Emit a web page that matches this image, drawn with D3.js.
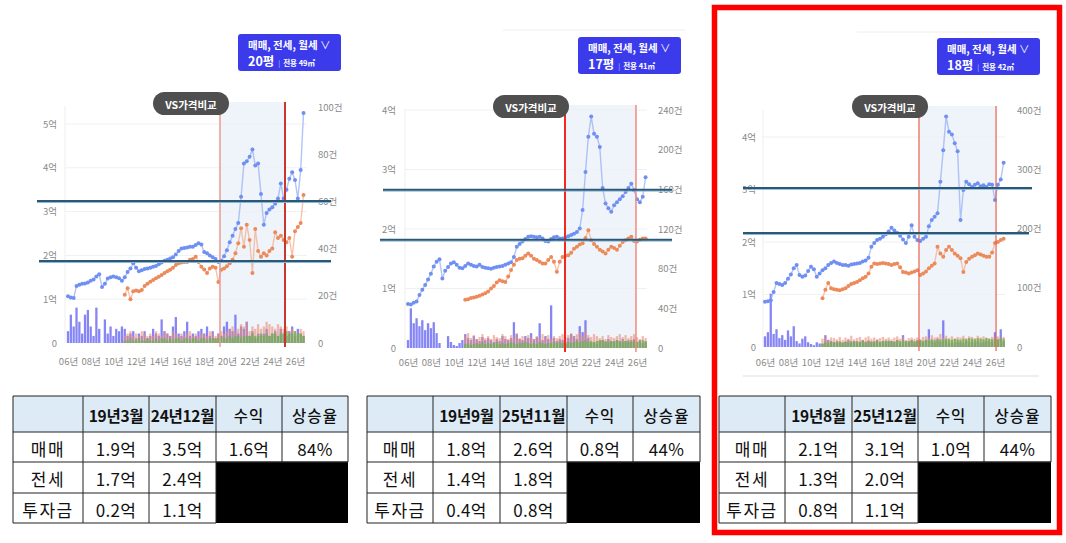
<!DOCTYPE html>
<html>
<head>
<meta charset="utf-8">
<script src="https://cdn.jsdelivr.net/npm/d3@7"></script>
<style>
  body { margin: 0; background: #fff; }
  svg { display: block; font-family: "Noto Sans CJK KR", "Noto Sans", sans-serif; }
</style>
</head>
<body>
<svg id="chart" width="1066" height="543"></svg>
<script>
// quarterly readings, sale from 2006 Q1, jeonse / volumes of jeonse+rent from 2011 Q1
const saleStart = 2006, jeonseStart = 2011;

// ---- panel 1 : 20평 (전용 49㎡)
const p1Sale = [
  1.07,1.04,1.03,1.30, 1.33,1.35,1.36,1.38, 1.42,1.45,1.52,1.57, 1.28,1.35,1.47,1.50,
  1.52,1.50,1.48,1.42, 1.50,1.62,1.70,1.82, 1.72,1.64,1.66,1.69, 1.70,1.72,1.74,1.76,
  1.80,1.84,1.88,1.90, 1.93,1.96,2.02,2.10, 2.16,2.17,2.18,2.20, 2.20,2.24,2.28,2.25,
  2.08,2.05,2.00,1.96, 1.92,1.85,1.88,1.98, 2.12,2.30,2.45,2.60, 2.74,3.34,4.10,4.15,
  4.25,4.42,4.05,4.10, 3.40,2.70,2.97,3.05, 3.10,3.18,3.30,3.64, 3.30,3.50,3.75,3.90,
  3.72,3.30,3.95,5.25];
const p1Jeonse = [
  1.10,1.25,1.00,1.18, 1.20,1.18,1.21,1.30, 1.35,1.40,1.44,1.48, 1.51,1.55,1.60,1.64,
  1.67,1.72,1.78,1.82, 1.84,1.85,1.85,1.90, 1.92,1.97,1.85,1.74, 1.68,1.60,1.70,1.74,
  1.72,1.39,1.67,1.70, 1.75,1.82,1.90,2.05, 2.28,2.62,2.20,2.70, 2.35,1.60,2.60,2.10,
  1.97,2.05,2.00,2.10, 2.16,2.53,2.40,2.45, 2.35,2.30,2.40,1.97, 2.55,2.65,2.74,3.38];
const p1SaleVol = [
  5,12,7,15, 9,4,12,14, 7,3,15,6, 0,10,4,7, 3,6,5,7, 6,3,4,5, 2,4,3,5, 2,3,6,4,
  3,10,5,4, 3,7,11,4, 3,5,9,3, 4,3,5,6, 4,7,3,5, 2,4,3,7, 9,6,5,12, 4,7,6,9,
  3,5,2,4, 3,4,6,3, 4,5,3,6, 4,3,5,7, 3,6,4,3];
const p1JeonseVol = [
  3,4,5,3, 4,3,5,4, 3,4,3,5, 4,3,5,4, 3,5,4,3, 4,3,4,5, 3,4,3,4, 4,3,5,4,
  3,4,5,4, 5,6,7,5, 6,8,7,9, 5,7,6,8, 6,7,9,8, 7,6,8,7, 6,7,5,6, 5,4,6,5];
const p1RentVol = [
  1,1,2,1, 1,2,1,1, 2,1,1,2, 1,2,2,1, 2,1,2,2, 1,2,2,1, 2,2,1,2, 2,1,2,2,
  2,2,3,2, 2,3,2,3, 3,2,3,3, 3,4,3,3, 4,3,4,3, 4,4,3,4, 4,5,4,4, 5,4,4,3];
const p1Marks = [2019.39, 2025.12];
const p1Guides = [3.24, 1.87];
const p1Head = ["", "19년3월", "24년12월", "수익", "상승율"];
const p1Rows = [["매매", "1.9억", "3.5억", "1.6억", "84%"], ["전세", "1.7억", "2.4억"], ["투자금", "0.2억", "1.1억"]];

// ---- panel 2 : 17평 (전용 41㎡)
const p2Sale = [
  0.74,0.73,0.76,0.78, 0.89,0.98,1.06,1.15, 1.25,1.37,1.45,1.49, 1.17,1.30,1.36,1.42,
  1.44,1.40,1.35,1.34, 1.38,1.42,1.40,1.38, 1.37,1.40,1.36,1.35, 1.34,1.33,1.35,1.36,
  1.37,1.38,1.40,1.42, 1.44,1.53,1.70,1.75, 1.79,1.83,1.87,1.88, 1.87,1.86,1.87,1.84,
  1.80,1.79,1.83,1.86, 1.87,1.84,1.84,1.86, 1.88,1.90,1.92,1.95, 2.01,2.32,2.96,3.55,
  3.89,3.60,3.55,3.38, 2.69,2.43,2.35,2.29, 2.40,2.45,2.50,2.55, 2.62,2.69,2.76,2.65,
  2.50,2.45,2.54,2.87];
const p2Jeonse = [
  0.81,0.82,0.84,0.85, 0.86,0.88,0.90,0.92, 0.95,1.00,1.04,1.10, 1.14,1.12,1.11,1.20,
  1.31,1.40,1.48,1.50, 1.51,1.55,1.59,1.55, 1.50,1.48,1.45,1.42, 1.42,1.48,1.53,1.45,
  1.28,1.45,1.53,1.55, 1.56,1.60,1.67,1.70, 1.74,1.76,1.85,1.98, 1.81,1.75,1.70,1.65,
  1.62,1.59,1.65,1.70, 1.68,1.65,1.72,1.78, 1.81,1.84,1.87,1.80, 1.79,1.82,1.84,1.84];
const p2SaleVol = [
  8,40,25,30, 22,28,18,25, 20,26,15,5, 0,0,12,6, 3,2,5,8, 14,10,8,12, 9,7,11,8,
  10,8,6,9, 7,12,9,8, 10,26,14,9, 8,12,10,15, 9,11,25,8, 12,9,43,10, 7,9,8,6,
  10,14,12,9, 22,16,28,10, 5,6,4,7, 8,6,9,7, 6,8,7,9, 7,6,8,9, 6,8,5,7];
const p2JeonseVol = [
  12,15,10,13, 9,11,14,10, 12,9,13,11, 10,14,12,9, 13,11,15,10, 12,10,13,11, 9,12,10,14, 11,13,9,12,
  10,12,14,11, 13,15,12,14, 16,12,18,13, 11,14,12,10, 12,9,13,11, 10,12,14,11, 13,10,12,14, 11,9,12,10];
const p2RentVol = [
  4,5,3,4, 5,4,6,4, 5,4,5,6, 4,5,4,5, 6,5,4,5, 5,6,5,4, 5,4,6,5, 4,5,5,6,
  5,6,5,4, 6,5,6,7, 6,7,8,6, 7,6,7,8, 8,7,6,7, 7,8,7,6, 7,8,6,7, 6,7,8,6];
const p2Marks = [2019.71, 2025.91];
const p2Guides = [2.66, 1.82];
const p2Head = ["", "19년9월", "25년11월", "수익", "상승율"];
const p2Rows = [["매매", "1.8억", "2.6억", "0.8억", "44%"], ["전세", "1.4억", "1.8억"], ["투자금", "0.4억", "0.8억"]];

// ---- panel 3 : 18평 (전용 42㎡)
const p3Sale = [
  0.86,0.87,0.89,1.05, 1.22,1.20,1.18,1.22, 1.30,1.38,1.50,1.56, 1.37,1.34,1.36,1.45,
  1.53,1.48,1.34,1.40, 1.46,1.50,1.56,1.60, 1.63,1.60,1.58,1.56, 1.56,1.55,1.57,1.58,
  1.59,1.60,1.63,1.65, 1.70,1.91,1.98,2.04, 2.06,2.10,2.15,2.20, 2.27,2.22,2.17,2.12,
  2.05,1.98,2.10,2.32, 2.10,2.04,2.02,2.06, 2.10,2.30,2.42,2.48, 2.55,3.15,3.75,4.39,
  4.10,4.05,3.88,3.73, 2.42,2.99,3.15,3.10, 3.05,3.09,3.12,3.06, 3.08,3.05,3.10,3.09,
  2.80,3.09,3.19,3.51];
const p3Jeonse = [
  0.93,1.09,1.22,1.12, 1.10,1.09,1.08,1.10, 1.12,1.16,1.20,1.22, 1.24,1.27,1.31,1.34,
  1.40,1.53,1.59,1.58, 1.59,1.60,1.59,1.58, 1.56,1.58,1.59,1.52, 1.43,1.42,1.40,1.42,
  1.44,1.46,1.37,1.40, 1.44,1.50,1.55,1.59, 1.91,1.78,1.72,1.85, 1.91,1.85,1.78,1.74,
  1.69,1.43,1.62,1.68, 1.72,1.75,1.78,1.76, 1.74,1.72,1.72,1.80, 1.98,2.00,2.04,2.06];
const p3SaleVol = [
  18,25,90,22, 30,15,20,12, 28,18,35,10, 6,14,18,8, 5,3,8,6, 5,20,12,10, 8,10,9,7,
  9,12,8,10, 10,8,12,9, 11,9,10,12, 8,10,9,11, 10,9,12,8, 20,9,10,12, 8,11,10,9,
  12,30,10,8, 14,9,45,10, 6,8,7,9, 8,7,10,8, 9,8,10,7, 8,10,9,8, 25,12,30,10];
const p3JeonseVol = [
  14,18,12,16, 15,13,17,12, 16,14,19,13, 15,17,12,16, 18,14,16,13, 15,17,14,16, 13,16,18,14, 17,12,15,16,
  14,16,13,17, 18,15,20,16, 17,22,16,19, 15,18,14,17, 16,19,15,18, 17,15,19,16, 18,16,14,17, 16,18,15,17];
const p3RentVol = [
  6,8,7,9, 8,7,9,8, 9,8,10,9, 8,9,10,8, 10,9,8,10, 9,10,11,9, 10,9,11,10, 11,10,9,11,
  10,11,12,10, 12,11,13,12, 11,13,12,14, 13,12,14,13, 12,14,13,15, 14,13,15,14, 13,15,14,13, 14,13,15,14];
const p3Marks = [2019.39, 2026.09];
const p3Guides = [3.03, 2.17];
const p3Head = ["", "19년8월", "25년12월", "수익", "상승율"];
const p3Rows = [["매매", "2.1억", "3.1억", "1.0억", "44%"], ["전세", "1.3억", "2.0억"], ["투자금", "0.8억", "1.1억"]];

const yearTicks = [2006, 2008, 2010, 2012, 2014, 2016, 2018, 2020, 2022, 2024, 2026];

const panels = [
  { sale: p1Sale, jeonse: p1Jeonse, saleVol: p1SaleVol, jeonseVol: p1JeonseVol, rentVol: p1RentVol,
    marks: p1Marks, guides: p1Guides, head: p1Head, rows: p1Rows, size: "20평", area: "전용 49㎡",
    x06: 68, x26: 295, plotL: 65, plotR: 307, plotTop: 102, yZero: 343,
    leftMax: 5, leftTopY: 124, rightMax: 100, rightStep: 20, rightTopY: 107,
    leftLabX: 57, rightLabX: 318, xLabY: 362,
    markStyle: [["#eb9a8e", 1.5], ["#c8382e", 2]],
    guideX: [[37, 331], [39, 331]],
    btn: [238, 34], pill: [153, 92],
    table: { cols: [13, 83, 149, 216, 282, 348], rows: [396, 432, 462, 493, 523] } },
  { sale: p2Sale, jeonse: p2Jeonse, saleVol: p2SaleVol, jeonseVol: p2JeonseVol, rentVol: p2RentVol,
    marks: p2Marks, guides: p2Guides, head: p2Head, rows: p2Rows, size: "17평", area: "전용 41㎡",
    x06: 408, x26: 637, plotL: 405, plotR: 647, plotTop: 105, yZero: 348,
    leftMax: 4, leftTopY: 110, rightMax: 240, rightStep: 40, rightTopY: 110,
    leftLabX: 396, rightLabX: 658, xLabY: 363,
    markStyle: [["#f02a1e", 2], ["#f08a80", 1.5]],
    guideX: [[383, 672], [380, 672]],
    btn: [578, 37], pill: [493, 95], topRule: [503, 685, 30],
    table: { cols: [367, 433, 500, 567, 633, 700], rows: [396, 432, 462, 493, 523] } },
  { sale: p3Sale, jeonse: p3Jeonse, saleVol: p3SaleVol, jeonseVol: p3JeonseVol, rentVol: p3RentVol,
    marks: p3Marks, guides: p3Guides, head: p3Head, rows: p3Rows, size: "18평", area: "전용 42㎡",
    x06: 765, x26: 995, plotL: 763, plotR: 1005, plotTop: 106, yZero: 347,
    leftMax: 4, leftTopY: 137, rightMax: 400, rightStep: 100, rightTopY: 110,
    leftLabX: 756, rightLabX: 1017, xLabY: 363,
    markStyle: [["#e8604e", 1.2], ["#e8604e", 1.2]],
    guideX: [[743, 1032], [743, 1029]],
    btn: [937, 38], pill: [852, 95], topRule: [857, 1040, 32], bottomRule: [743, 1039, 376],
    table: { cols: [719, 785, 852, 918, 984, 1051], rows: [396, 432, 462, 493, 523] } }
];

const svg = d3.select("#chart");
svg.append("rect").attr("width", 1066).attr("height", 543).attr("fill", "#fff");

function drawPanel(p) {
  const g = svg.append("g");
  const x = d3.scaleLinear().domain([2006, 2026]).range([p.x06, p.x26]);
  const yL = d3.scaleLinear().domain([0, p.leftMax]).range([p.yZero, p.leftTopY]);
  const yR = d3.scaleLinear().domain([0, p.rightMax]).range([p.yZero, p.rightTopY]);

  const saleData = p.sale.map((v, i) => ({ t: saleStart + i / 4, v }));
  const jeonseData = p.jeonse.map((v, i) => ({ t: jeonseStart + i / 4, v }));
  const saleVolData = p.saleVol.map((v, i) => ({ t: saleStart + i / 4, v }));
  const jeonseVolData = p.jeonseVol.map((v, i) => ({ t: jeonseStart + i / 4, v }));
  const rentVolData = p.rentVol.map((v, i) => ({ t: jeonseStart + i / 4, v }));

  if (p.topRule) g.append("line").attr("x1", p.topRule[0]).attr("x2", p.topRule[1])
    .attr("y1", p.topRule[2]).attr("y2", p.topRule[2]).attr("stroke", "#eeeeee");
  if (p.bottomRule) g.append("line").attr("x1", p.bottomRule[0]).attr("x2", p.bottomRule[1])
    .attr("y1", p.bottomRule[2]).attr("y2", p.bottomRule[2]).attr("stroke", "#dddddd");

  // comparison window
  g.append("rect")
    .attr("x", x(p.marks[0])).attr("y", p.plotTop)
    .attr("width", x(p.marks[1]) - x(p.marks[0])).attr("height", p.yZero - p.plotTop)
    .attr("fill", "#eef4fa");

  // gridlines
  g.append("g").selectAll("line")
    .data(d3.range(1, p.leftMax + 1))
    .join("line")
    .attr("x1", p.plotL).attr("x2", p.plotR)
    .attr("y1", d => yL(d)).attr("y2", d => yL(d))
    .attr("stroke", "#f0f0f0");
  g.append("line").attr("x1", p.plotL).attr("x2", p.plotL)
    .attr("y1", p.plotTop + 4).attr("y2", p.yZero).attr("stroke", "#eeeeee");

  // axes
  const axL = g.append("g").attr("transform", `translate(${p.leftLabX},0)`)
    .call(d3.axisLeft(yL).tickValues(d3.range(0, p.leftMax + 1)).tickSize(0).tickPadding(0)
      .tickFormat(d => d === 0 ? "0" : d + "억"));
  const axR = g.append("g").attr("transform", `translate(${p.rightLabX},0)`)
    .call(d3.axisRight(yR).tickValues(d3.range(0, p.rightMax + 1, p.rightStep)).tickSize(0).tickPadding(0)
      .tickFormat(d => d === 0 ? "0" : d + "건"));
  const axB = g.append("g").attr("transform", `translate(0,${p.xLabY - 4})`)
    .call(d3.axisBottom(x).tickValues(yearTicks).tickSize(0).tickPadding(0)
      .tickFormat(d => String(d).slice(2) + "년"));
  [axL, axR, axB].forEach(a => {
    a.select(".domain").remove();
    a.selectAll("text").attr("fill", "#8a8a8a").style("font-size", "9.5px")
      .style("font-family", "'Noto Sans CJK KR', sans-serif");
  });

  // volume bars
  const bw = (x(2006.25) - x(2006)) * 0.8;
  const bars = (data, color, op) => g.append("g").selectAll("rect")
    .data(data.filter(d => d.v > 0))
    .join("rect")
    .attr("x", d => x(d.t) - bw / 2).attr("width", bw)
    .attr("y", d => yR(d.v)).attr("height", d => p.yZero - yR(d.v))
    .attr("fill", color).attr("opacity", op);
  bars(saleVolData, "#5c5cf2", 0.75);
  bars(jeonseVolData, "#ee8c74", 0.6);
  bars(rentVolData, "#6cb24e", 0.8);

  // price lines
  const line = d3.line().x(d => x(d.t)).y(d => yL(d.v));
  const series = (data, lineColor, dotColor) => {
    g.append("path").datum(data).attr("d", line)
      .attr("fill", "none").attr("stroke", lineColor).attr("stroke-width", 1.4).attr("opacity", 0.8);
    g.append("g").selectAll("circle").data(data).join("circle")
      .attr("cx", d => x(d.t)).attr("cy", d => yL(d.v)).attr("r", 2)
      .attr("fill", dotColor);
  };
  series(saleData, "#9fb4f5", "#6f8ff2");
  series(jeonseData, "#f2b498", "#ec8a5a");

  // date markers
  g.append("g").selectAll("line").data(p.marks).join("line")
    .attr("x1", d => x(d)).attr("x2", d => x(d))
    .attr("y1", p.plotTop).attr("y2", p.yZero + 4)
    .attr("stroke", (d, i) => p.markStyle[i][0])
    .attr("stroke-width", (d, i) => p.markStyle[i][1]);

  // hand-drawn guide lines
  p.guides.forEach((v, i) => {
    g.append("line").attr("x1", p.guideX[i][0]).attr("x2", p.guideX[i][1])
      .attr("y1", yL(v) + 1.4).attr("y2", yL(v) + 1.4).attr("stroke", "#86b8d6").attr("stroke-width", 1);
    g.append("line").attr("x1", p.guideX[i][0]).attr("x2", p.guideX[i][1])
      .attr("y1", yL(v)).attr("y2", yL(v)).attr("stroke", "#2c5878").attr("stroke-width", 2);
  });

  // VS pill
  g.append("rect").attr("x", p.pill[0]).attr("y", p.pill[1]).attr("width", 76).attr("height", 23)
    .attr("rx", 11.5).attr("fill", "#4f4f4f");
  g.append("text").attr("x", p.pill[0] + 38).attr("y", p.pill[1] + 12)
    .attr("text-anchor", "middle").attr("dominant-baseline", "central")
    .attr("fill", "#fff").style("font-size", "10.5px").style("font-weight", 700).text("VS가격비교");

  // type button
  const bx = p.btn[0], by = p.btn[1];
  g.append("rect").attr("x", bx).attr("y", by).attr("width", 103).attr("height", 37)
    .attr("rx", 3).attr("fill", "#3b3bec");
  const t1 = g.append("text").attr("x", bx + 10).attr("y", by + 15).attr("fill", "#fff")
    .style("font-size", "10.5px").style("font-weight", 700);
  t1.append("tspan").text("매매, 전세, 월세 ");
  t1.append("tspan").style("font-weight", 400).text("∨");
  const t2 = g.append("text").attr("x", bx + 10).attr("y", by + 32).attr("fill", "#fff");
  t2.append("tspan").style("font-size", "12.5px").style("font-weight", 700).text(p.size);
  t2.append("tspan").attr("dx", 4).style("font-size", "7px").attr("fill", "#c8c8ff").text("|");
  t2.append("tspan").attr("dx", 3).style("font-size", "7.5px").style("font-weight", 700).text(p.area);

  drawTable(p.table, p.head, p.rows);
}

function drawTable(t, head, rows) {
  const g = svg.append("g");
  const c = t.cols, r = t.rows;
  // header fill
  g.append("rect").attr("x", c[0]).attr("y", r[0]).attr("width", c[5] - c[0]).attr("height", r[1] - r[0])
    .attr("fill", "#ddebf7");
  // empty area of the lower right block
  g.append("rect").attr("x", c[3]).attr("y", r[2]).attr("width", c[5] - c[3]).attr("height", r[4] - r[2])
    .attr("fill", "#000");
  // grid
  const segs = [];
  r.forEach((y, i) => segs.push([c[0], y, (i >= 3 ? c[3] : c[5]), y]));
  segs.push([c[3], r[2], c[5], r[2]]);
  c.forEach((xv, j) => segs.push([xv, r[0], xv, (j >= 4 ? r[2] : r[4])]));
  g.append("g").selectAll("line").data(segs).join("line")
    .attr("x1", d => d[0]).attr("y1", d => d[1]).attr("x2", d => d[2]).attr("y2", d => d[3])
    .attr("stroke", "#222").attr("stroke-width", 1);

  head.forEach((h, j) => {
    g.append("text").attr("x", (c[j] + c[j + 1]) / 2).attr("y", (r[0] + r[1]) / 2 + 1)
      .attr("text-anchor", "middle").attr("dominant-baseline", "central")
      .attr("fill", "#111").style("font-size", j < 3 ? "15.5px" : "15.5px")
      .style("letter-spacing", j < 3 ? "-0.3px" : "1px")
      .style("font-weight", j < 3 ? 700 : 500).text(h);
  });
  rows.forEach((row, i) => {
    row.forEach((v, j) => {
      g.append("text").attr("x", (c[j] + c[j + 1]) / 2).attr("y", (r[i + 1] + r[i + 2]) / 2 + 1)
        .attr("text-anchor", "middle").attr("dominant-baseline", "central")
        .attr("fill", "#111").style("font-size", "17px")
        .style("letter-spacing", j === 0 ? "1.5px" : "0.3px").text(v);
    });
  });
}

panels.forEach(drawPanel);

// selection frame around the third panel
svg.append("rect").attr("x", 714.5).attr("y", 7.5).attr("width", 345).attr("height", 525)
  .attr("fill", "none").attr("stroke", "#ff0000").attr("stroke-width", 5.5);
</script>
</body>
</html>
